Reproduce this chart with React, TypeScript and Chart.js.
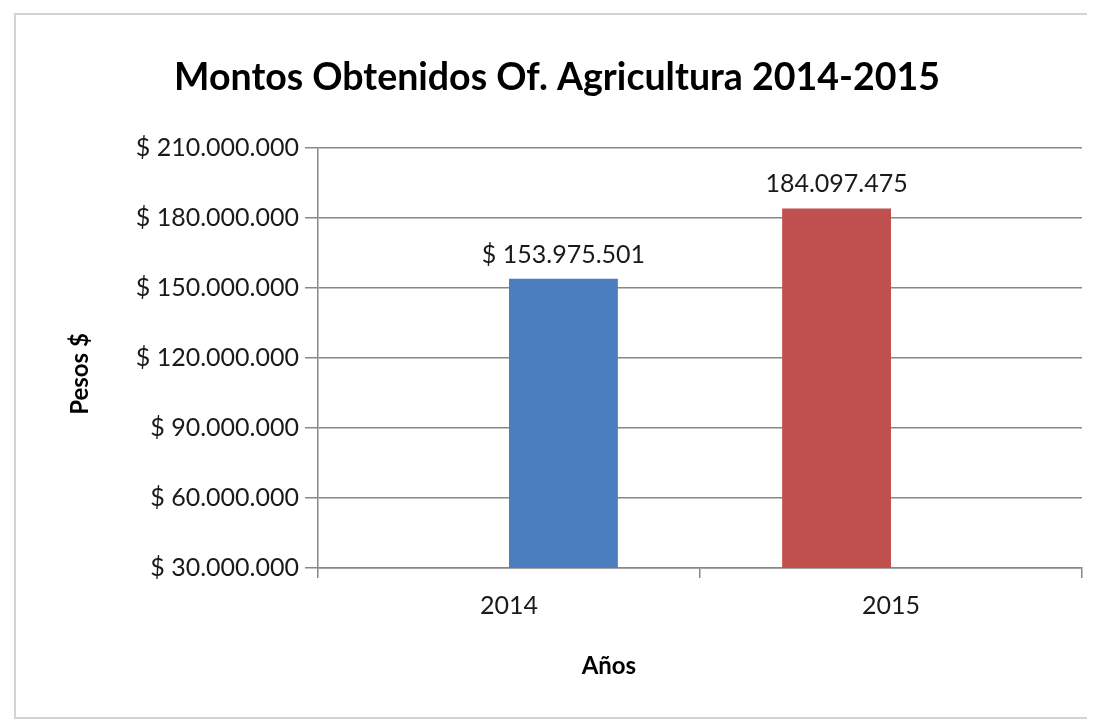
import React, { useEffect, useRef } from "react";
import { Chart, registerables } from "chart.js";

Chart.register(...registerables);

const categories = ["2014", "2015"];
// Excel-style layout: each year is its own series, keeping its slot in the group
const series2015 = [null, 184097475];
const series2014 = [153975501, null];
const labels2015 = ["", "184.097.475"];
const labels2014 = ["$ 153.975.501", ""];
const yMin = 30000000;
const yMax = 210000000;
const yStep = 30000000;
const titleText = "Montos Obtenidos Of. Agricultura 2014-2015";
const xTitle = "Años";
const yTitle = "Pesos $";

const FONT = "Lato, 'Open Sans', sans-serif";
const Y_TICK_LEN = 13;
const Y_TICK_PAD = 6;

function fmtPesos(v: number): string {
  const s = Math.round(v).toString().replace(/\B(?=(\d{3})+(?!\d))/g, ".");
  return "$ " + s;
}

const valueLabels = {
  id: "valueLabels",
  afterDatasetsDraw(chart: any) {
    const ctx = chart.ctx;
    const texts = [labels2015, labels2014];
    ctx.save();
    ctx.font = `25px ${FONT}`;
    ctx.fillStyle = "#1a1a1a";
    ctx.textAlign = "center";
    ctx.textBaseline = "alphabetic";
    chart.data.datasets.forEach((ds: any, di: number) => {
      const meta = chart.getDatasetMeta(di);
      meta.data.forEach((el: any, i: number) => {
        if (ds.data[i] == null) return;
        ctx.fillText(texts[di][i], el.x, el.y - 16);
      });
    });
    ctx.restore();
  },
};

const axisTitles = {
  id: "axisTitles",
  afterDraw(chart: any) {
    const ctx = chart.ctx;
    const area = chart.chartArea;
    ctx.save();
    ctx.font = `25px ${FONT}`;
    const w = ctx.measureText(fmtPesos(yMax)).width;
    ctx.font = `bold 24px ${FONT}`;
    ctx.fillStyle = "#000";
    ctx.textAlign = "center";
    ctx.textBaseline = "middle";
    // x title centred under tick labels + plot
    const labelsLeft = area.left - Y_TICK_LEN - Y_TICK_PAD - w;
    ctx.fillText(xTitle, (labelsLeft + area.right) / 2, area.bottom + 98);
    // y title
    ctx.translate(64, (area.top + area.bottom) / 2 + 16);
    ctx.rotate(-Math.PI / 2);
    ctx.fillText(yTitle, 0, 0);
    ctx.restore();
  },
};

export default function App() {
  const ref = useRef<HTMLCanvasElement | null>(null);
  useEffect(() => {
    if (!ref.current) return;
    const chart = new Chart(ref.current, {
      type: "bar",
      data: {
        labels: categories,
        datasets: [
          {
            label: "2015",
            data: series2015,
            backgroundColor: "#c0504d",
            barPercentage: 1.0,
            categoryPercentage: 0.57,
          },
          {
            label: "2014",
            data: series2014,
            backgroundColor: "#4a7ebf",
            barPercentage: 1.0,
            categoryPercentage: 0.57,
          },
        ],
      },
      options: {
        animation: false,
        responsive: true,
        maintainAspectRatio: false,
        layout: { padding: { left: 16, right: 6, top: 0, bottom: 83 } },
        plugins: {
          legend: { display: false },
          tooltip: { enabled: false },
          title: {
            display: true,
            text: titleText,
            color: "#000",
            font: { family: FONT, size: 37.5, weight: "bold" },
            padding: { top: 40, bottom: 48 },
          },
        },
        scales: {
          x: {
            grid: {
              drawOnChartArea: false,
              drawTicks: true,
              tickLength: 10,
              color: "#888",
              lineWidth: 1.5,
            },
            border: { display: true, color: "#888", width: 1.5 },
            ticks: {
              color: "#1a1a1a",
              padding: 13,
              font: { family: FONT, size: 25 },
            },
          },
          y: {
            min: yMin,
            max: yMax,
            grid: {
              color: "#888",
              lineWidth: 1.5,
              tickLength: Y_TICK_LEN,
            },
            border: { display: true, color: "#888", width: 1.5 },
            ticks: {
              stepSize: yStep,
              color: "#1a1a1a",
              padding: Y_TICK_PAD,
              font: { family: FONT, size: 25 },
              callback: (v: any) => fmtPesos(Number(v)),
            },
            afterFit: (scale: any) => {
              scale.width = 286;
            },
          },
        },
      },
      plugins: [valueLabels, axisTitles],
    });
    return () => chart.destroy();
  }, []);

  return (
    <div
      style={{
        marginLeft: 6,
        marginTop: 5,
        width: 1072,
        height: 702,
        border: "2px solid #d4d4d4",
        background: "#fff",
      }}
    >
      <canvas ref={ref} />
    </div>
  );
}
